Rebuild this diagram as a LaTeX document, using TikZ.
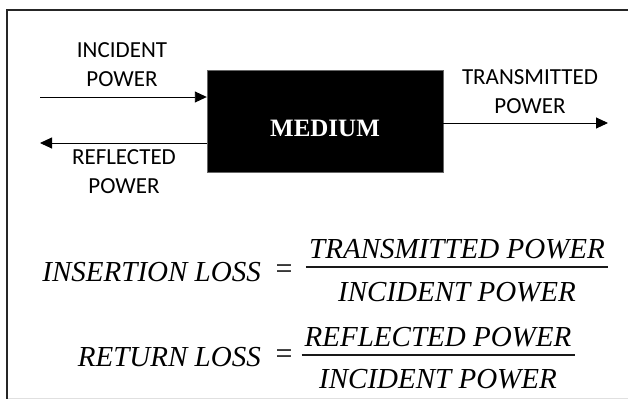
\documentclass[tikz,border=0pt]{standalone}
\usepackage{fontspec}
\usepackage{tikz}
\usetikzlibrary{arrows.meta, positioning}

\newfontfamily\labfont{Carlito}
\newfontfamily\eqfont{Liberation Serif}

\begin{document}
\begin{tikzpicture}[x=1pt,y=-1pt,
    lab/.style={font=\labfont\fontsize{23}{29}\selectfont, align=center, inner sep=0pt},
    eqtext/.style={font=\eqfont\itshape\fontsize{29}{35}\selectfont, inner sep=0pt},
    eqsign/.style={font=\eqfont\fontsize{30}{35}\selectfont, inner sep=0pt},
    fracbar/.style={line width=1.3pt, black!90},
    pow/.style={line width=0.9pt, -{Triangle[length=12pt,width=11pt]}}]

    \useasboundingbox (0,0) rectangle (628,399);
    \fill[white] (0,0) rectangle (628,399);

    % frame
    \draw[line width=2pt, black!85] (7,9.5) -- (628,9.5);
    \draw[line width=2pt, black!85] (7,9) -- (7,399);
    \draw[line width=0.8pt, black!12] (8,398.5) -- (628,398.5);

    \node[fill=black, draw=black!60, minimum width=236pt, minimum height=102pt,
      inner sep=0pt] (medium) at (325,121) {};
    \node[text=white, inner sep=0pt, font=\eqfont\bfseries\fontsize{25}{28}\selectfont]
      (mlabel) at ([yshift=-7pt]medium.center) {MEDIUM};

    \coordinate (incstart) at (40,97);
    \coordinate (refend) at (40,143);
    \coordinate (trend) at (608,123);

    \draw[pow] (incstart) -- (incstart -| medium.west);
    \draw[pow] (refend -| medium.west) -- (refend);
    \draw[pow] (trend -| medium.east) -- (trend);

    \node[lab] (inclab) at (122,65) {INCIDENT\\POWER};
    \node[lab] (reflab) at (124,172) {REFLECTED\\POWER};
    \node[lab] (trlab) at (530,92) {TRANSMITTED\\POWER};

    % insertion loss
    \node[eqtext, anchor=east] (ilname) at (261,272) {INSERTION LOSS};
    \node[eqsign] (ileq) at (284,272) {=};
    \node[eqtext, anchor=base] (ilnum) at (457,258) {TRANSMITTED POWER};
    \node[eqtext, anchor=base] (ilden) at (457,301) {INCIDENT POWER};
    \coordinate (ilbar) at (457,267);
    \draw[fracbar] ([xshift=-3pt]ilbar -| ilnum.west) -- ([xshift=3pt]ilbar -| ilnum.east);

    % return loss
    \node[eqtext, anchor=east] (rlname) at (261,357) {RETURN LOSS};
    \node[eqsign] (rleq) at (284,357) {=};
    \node[eqtext, anchor=base] (rlnum) at (438,346) {REFLECTED POWER};
    \node[eqtext, anchor=base] (rlden) at (438,388) {INCIDENT POWER};
    \coordinate (rlbar) at (438,355);
    \draw[fracbar] ([xshift=-3pt]rlbar -| rlnum.west) -- ([xshift=3pt]rlbar -| rlnum.east);

\end{tikzpicture}
\end{document}
